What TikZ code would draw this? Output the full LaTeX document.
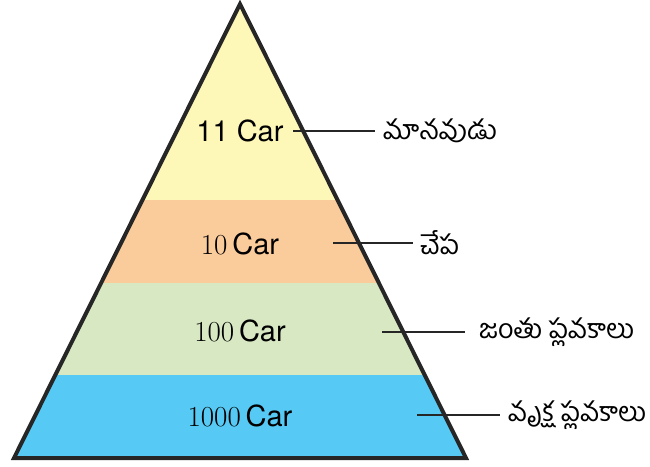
\documentclass[tikz,border=0pt]{standalone}
\usepackage{fontspec}
\setmainfont{TeX Gyre Heros}
\newfontfamily\telfont[Script=Telugu]{Hind Guntur}
\newfontfamily\numfont{Latin Modern Roman}
\definecolor{cyel}{HTML}{FDF7B8}
\definecolor{corg}{HTML}{FACB9B}
\definecolor{cgrn}{HTML}{D7E8C3}
\definecolor{cblu}{HTML}{56CAF4}
\begin{document}
\begin{tikzpicture}[x=1pt,y=-1pt,
  qty/.style={font=\fontsize{29}{32}\selectfont, inner sep=0pt, anchor=center},
  tel/.style={font=\telfont\fontsize{27}{30}\selectfont, inner sep=0pt, anchor=west},
  conn/.style={line width=2pt, black!85}]
\useasboundingbox (0,0) rectangle (650,466);
\coordinate (A) at (240,4);
\coordinate (L) at (14,458);
\coordinate (R) at (466,458);
\begin{scope}
\clip (A) -- (L) -- (R) -- cycle;
\fill[cyel] (0,0) rectangle (650,200);
\fill[corg] (0,200) rectangle (650,283);
\fill[cgrn] (0,283) rectangle (650,375);
\fill[cblu] (0,375) rectangle (650,466);
\end{scope}
\node[qty] (q1) at (240,131) {11\ Car};
\node[qty] (q2) at (240,244) {{\numfont 10}\,Car};
\node[qty] (q3) at (240,331) {{\numfont 100}\,Car};
\node[qty] (q4) at (240,416) {{\numfont 1000}\,Car};
\coordinate (s1) at (293,131);
\coordinate (s2) at (333,243);
\coordinate (s3) at (382,332);
\coordinate (s4) at (417,415);
\node[tel] (t1) at (383,131) {మానవుడు};
\node[tel] (t2) at (420,243) {చేప};
\node[tel] (t3) at (479,332) {జంతు ప్లవకాలు};
\node[tel] (t4) at (508,415) {వృక్ష ప్లవకాలు};
\draw[conn] (s1) -- ++(82,0) coordinate (e1);
\draw[conn] (s2) -- ++(80,0) coordinate (e2);
\draw[conn] (s3) -- ++(83,0) coordinate (e3);
\draw[conn] (s4) -- ++(83,0) coordinate (e4);
\draw[line width=4pt, black!85, line join=miter] (A) -- (L) -- (R) -- cycle;
\end{tikzpicture}
\end{document}
